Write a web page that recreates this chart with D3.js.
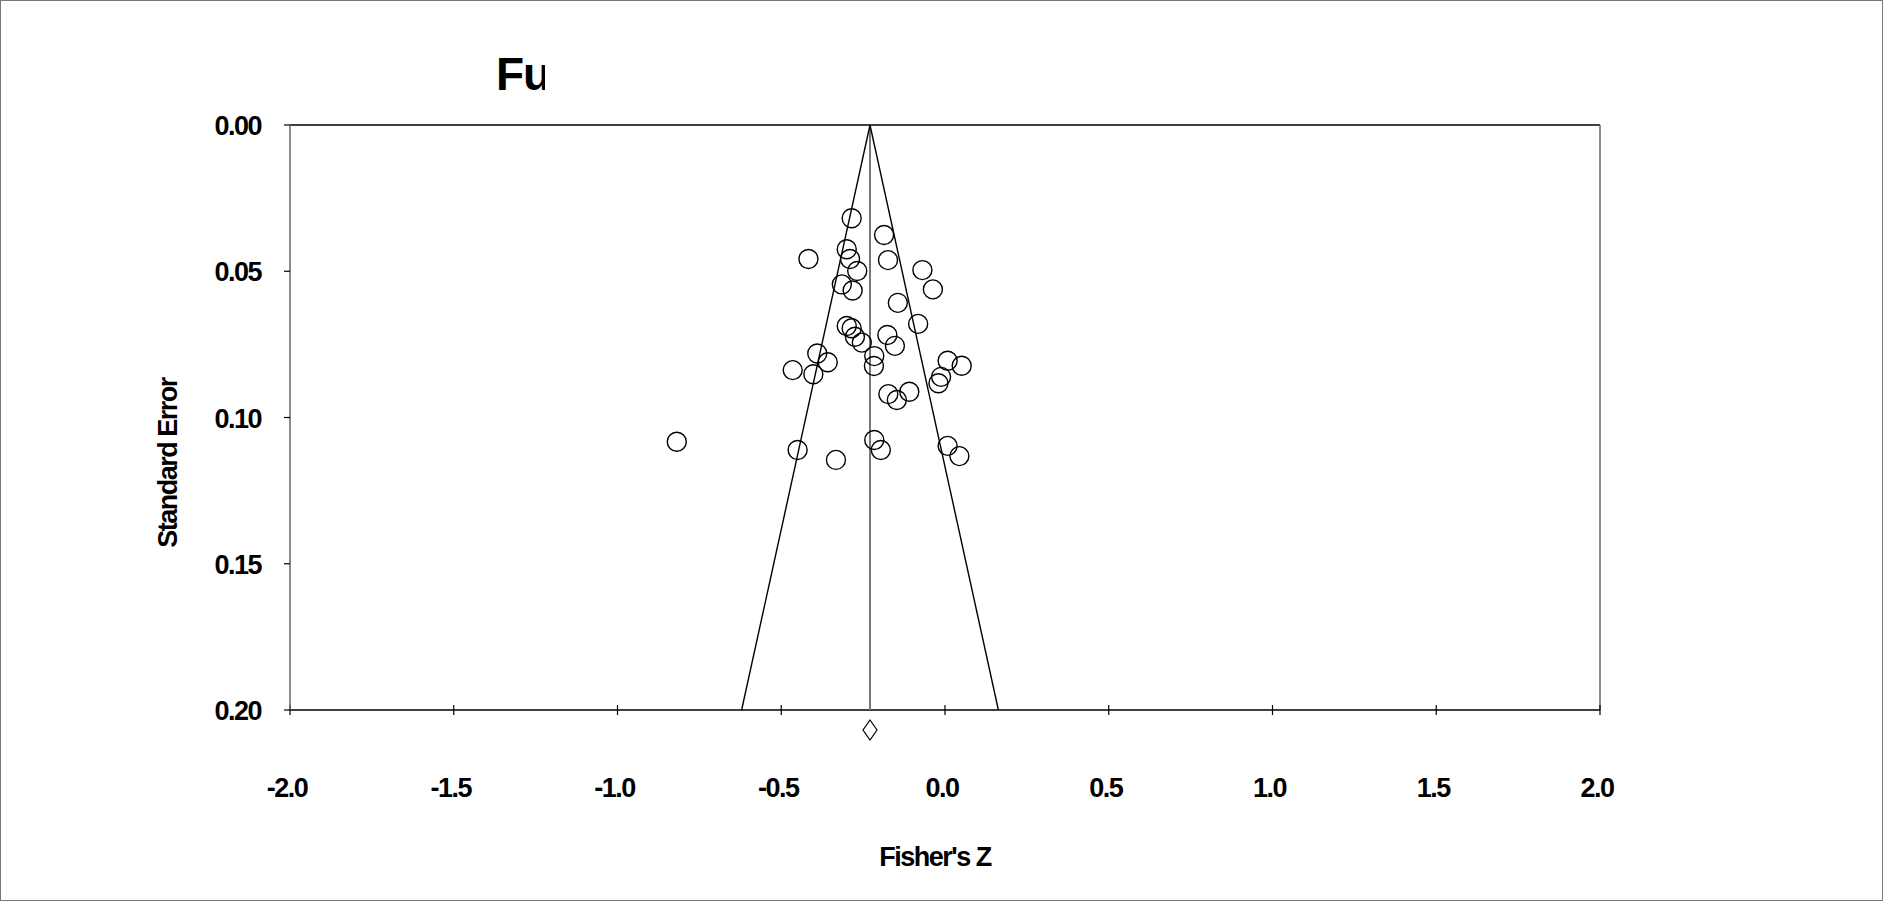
<!DOCTYPE html>
<html>
<head>
<meta charset="utf-8">
<script src="https://cdn.jsdelivr.net/npm/d3@7"></script>
<style>
html,body{margin:0;padding:0;background:#fff;}
svg{display:block;}
text{font-family:"Liberation Sans",Arial,sans-serif;font-weight:bold;fill:#000;}
</style>
</head>
<body>
<svg id="chart" width="1883" height="901"></svg>
<script>
const titleText = "Fu";
const xLabel = "Fisher's Z";
const yLabel = "Standard Error";
const xTicks = [-2.0, -1.5, -1.0, -0.5, 0.0, 0.5, 1.0, 1.5, 2.0];
const yTicks = [0.00, 0.05, 0.10, 0.15, 0.20];
const summaryZ = -0.229;
const maxSE = 0.20;

const zValues = [-0.285,-0.186,-0.417,-0.300,-0.290,-0.174,-0.268,-0.069,-0.315,-0.282,
  -0.037,-0.144,-0.082,-0.300,-0.285,-0.176,-0.275,-0.254,-0.153,-0.390,
  -0.358,-0.465,-0.402,-0.216,-0.217,0.008,0.051,-0.012,-0.020,-0.173,
  -0.109,-0.147,-0.216,-0.196,-0.450,-0.333,0.008,0.044,-0.819];
const seValues = [0.0319,0.0376,0.0458,0.0425,0.0458,0.0462,0.0499,0.0496,0.0545,0.0566,
  0.0562,0.0608,0.0680,0.0687,0.0695,0.0718,0.0724,0.0744,0.0755,0.0781,
  0.0811,0.0838,0.0852,0.0790,0.0824,0.0806,0.0823,0.0861,0.0883,0.0920,
  0.0912,0.0940,0.1077,0.1111,0.1111,0.1145,0.1097,0.1132,0.1083];

const svg = d3.select("#chart");
const L = 290, R = 1600, T = 125, B = 710;
const x = d3.scaleLinear().domain([-2, 2]).range([L, R]);
const y = d3.scaleLinear().domain([0, maxSE]).range([T, B]);
const fmtX = d => d3.format(".1f")(d).replace("\u2212", "-");
const fmtY = d => d3.format(".2f")(d).replace("\u2212", "-");

// page border
svg.append("rect").attr("x",0.5).attr("y",0.5).attr("width",1882).attr("height",900)
  .attr("fill","none").attr("stroke","#777").attr("stroke-width",1);

// frame
svg.append("line").attr("x1",L).attr("x2",R).attr("y1",T).attr("y2",T).attr("stroke","#000").attr("stroke-width",1.5);
svg.append("line").attr("x1",R).attr("x2",R).attr("y1",T).attr("y2",B).attr("stroke","#666").attr("stroke-width",1.5);

// x axis
const gx = svg.append("g").attr("transform",`translate(0,${B})`);
gx.append("line").attr("x1",L).attr("x2",R).attr("stroke","#000").attr("stroke-width",1.5);
gx.selectAll(".xt").data(xTicks).enter().append("line")
  .attr("x1",d=>x(d)).attr("x2",d=>x(d)).attr("y1",-5).attr("y2",5)
  .attr("stroke","#000").attr("stroke-width",1.2);
gx.selectAll(".xl").data(xTicks).enter().append("text")
  .attr("x",d=>x(d)-3).attr("y",87)
  .attr("text-anchor","middle").attr("font-size",27).attr("letter-spacing","-1.5px")
  .text(fmtX);

// y axis
const gy = svg.append("g").attr("transform",`translate(${L},0)`);
gy.append("line").attr("y1",T).attr("y2",B).attr("stroke","#666").attr("stroke-width",1.5);
gy.selectAll(".yt").data(yTicks).enter().append("line")
  .attr("x1",-6).attr("x2",0).attr("y1",d=>y(d)).attr("y2",d=>y(d))
  .attr("stroke","#000").attr("stroke-width",1.2);
gy.selectAll(".yl").data(yTicks).enter().append("text")
  .attr("x",-29).attr("y",d=>y(d)+10)
  .attr("text-anchor","end").attr("font-size",27).attr("letter-spacing","-1.5px")
  .text(fmtY);

// funnel
const half = 1.96 * maxSE;
svg.append("line").attr("x1",x(summaryZ)).attr("x2",x(summaryZ)).attr("y1",y(0)).attr("y2",y(maxSE))
  .attr("stroke","#777").attr("stroke-width",2);
svg.append("line").attr("x1",x(summaryZ)).attr("y1",y(0)).attr("x2",x(summaryZ-half)).attr("y2",y(maxSE))
  .attr("stroke","#000").attr("stroke-width",1.4);
svg.append("line").attr("x1",x(summaryZ)).attr("y1",y(0)).attr("x2",x(summaryZ+half)).attr("y2",y(maxSE))
  .attr("stroke","#000").attr("stroke-width",1.4);

// points
svg.append("g").selectAll("circle").data(zValues.map((z,i)=>({z, se: seValues[i]}))).enter()
  .append("circle").attr("cx",d=>x(d.z)).attr("cy",d=>y(d.se)).attr("r",9.5)
  .attr("fill","none").attr("stroke","#000").attr("stroke-width",1.4);

// summary diamond
const dx = x(summaryZ), dy = B + 20;
svg.append("path").attr("d",`M${dx},${dy-10} L${dx+7},${dy} L${dx},${dy+10} L${dx-7},${dy} Z`)
  .attr("fill","#fff").attr("stroke","#000").attr("stroke-width",1.2);

// axis titles
svg.append("text").attr("x",935).attr("y",866).attr("text-anchor","middle")
  .attr("font-size",27).attr("letter-spacing","-1.5px").text(xLabel);
svg.append("text").attr("transform","translate(177,463) rotate(-90)").attr("text-anchor","middle")
  .attr("font-size",27).attr("letter-spacing","-1.5px").text(yLabel);

// title (clipped)
svg.append("clipPath").attr("id","tclip").append("rect").attr("x",480).attr("y",40).attr("width",65).attr("height",70);
svg.append("text").attr("x",496).attr("y",90).attr("font-size",46).attr("letter-spacing","-1px")
  .attr("clip-path","url(#tclip)").text(titleText);
</script>
</body>
</html>
